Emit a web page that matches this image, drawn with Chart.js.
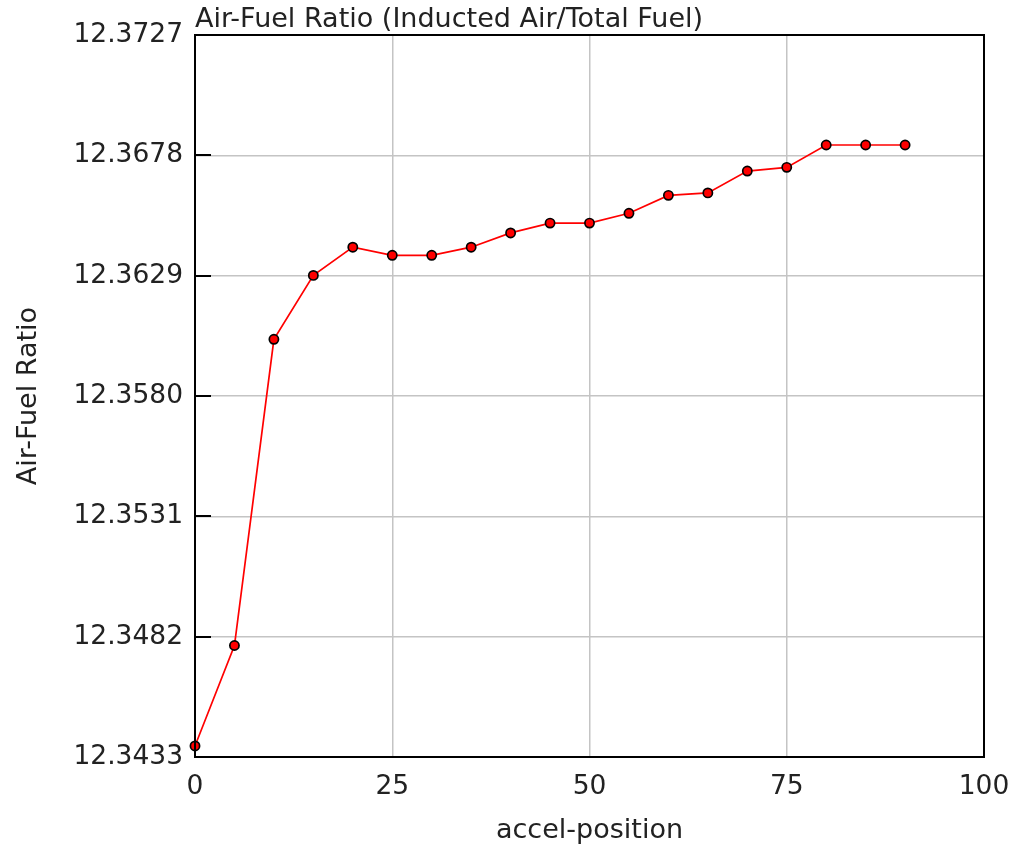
<!DOCTYPE html>
<html>
<head>
<meta charset="utf-8">
<script src="https://cdn.jsdelivr.net/npm/chart.js@4.4.1/dist/chart.umd.min.js"></script>
<style>
  html, body { margin: 0; padding: 0; background: #fff; }
  #wrap { width: 1014px; height: 844px; position: relative; }
</style>
</head>
<body>
<div id="wrap"><canvas id="c" width="1014" height="844"></canvas></div>
<script>
// accel-position sweep and the resulting air-fuel ratio
const accelPosition = [0, 5, 10, 15, 20, 25, 30, 35, 40, 45, 50, 55, 60, 65, 70, 75, 80, 85, 90];
const airFuelRatio = [12.34375, 12.34784, 12.36031, 12.36291, 12.36406, 12.36373, 12.36373, 12.36406,
                      12.36464, 12.36504, 12.36504, 12.36544, 12.36617, 12.36627, 12.36716, 12.36731,
                      12.36822, 12.36822, 12.36822];
const yTickValues = [12.3433, 12.3482, 12.3531, 12.3580, 12.3629, 12.3678, 12.3727];
const xTickValues = [0, 25, 50, 75, 100];

const FONT = 'DejaVu Sans';
const TEXT = '#222';

// plot frame, inner tick marks on the value axis, and the left-aligned heading
const framePlugin = {
  id: 'frame',
  afterDraw(chart) {
    const { ctx, chartArea: a, scales } = chart;
    ctx.save();
    ctx.strokeStyle = '#000';
    ctx.lineWidth = 2;
    ctx.strokeRect(a.left, a.top, a.right - a.left, a.bottom - a.top);
    yTickValues.forEach(v => {
      const y = Math.round(scales.y.getPixelForValue(v));
      ctx.beginPath();
      ctx.moveTo(a.left, y);
      ctx.lineTo(a.left + 16, y);
      ctx.stroke();
    });
    ctx.fillStyle = TEXT;
    ctx.font = '27px "' + FONT + '"';
    ctx.textAlign = 'left';
    ctx.textBaseline = 'alphabetic';
    ctx.fillText('Air-Fuel Ratio (Inducted Air/Total Fuel)', a.left, a.top - 8);
    ctx.restore();
  }
};

new Chart(document.getElementById('c'), {
  type: 'line',
  data: {
    datasets: [{
      data: accelPosition.map((x, i) => ({ x: x, y: airFuelRatio[i] })),
      borderColor: '#ff0000',
      borderWidth: 1.7,
      pointBackgroundColor: '#ff0000',
      pointBorderColor: '#000',
      pointBorderWidth: 1.7,
      pointRadius: 4.6,
      tension: 0,
      clip: false
    }]
  },
  options: {
    responsive: false,
    animation: false,
    layout: { padding: { left: 0, right: 30, top: 35, bottom: 0 } },
    plugins: { legend: { display: false }, tooltip: { enabled: false } },
    scales: {
      x: {
        type: 'linear',
        min: 0,
        max: 100,
        afterBuildTicks: s => { s.ticks = xTickValues.map(v => ({ value: v })); },
        afterFit: s => { s.height = 87; s.paddingLeft = 0; s.paddingRight = 0; },
        grid: { color: '#c4c4c4', lineWidth: 1.5, drawTicks: false },
        border: { display: false },
        ticks: { color: TEXT, font: { family: FONT, size: 26.5 }, padding: 14, maxRotation: 0 },
        title: { display: true, text: 'accel-position', color: TEXT, font: { family: FONT, size: 27 }, padding: { top: 0, bottom: -3 } }
      },
      y: {
        type: 'linear',
        min: 12.3433,
        max: 12.3727,
        afterBuildTicks: s => { s.ticks = yTickValues.map(v => ({ value: v })); },
        afterFit: s => { s.width = 195; s.paddingTop = 0; s.paddingBottom = 0; },
        grid: { color: '#c4c4c4', lineWidth: 1.5, drawTicks: false },
        border: { display: false },
        ticks: { color: TEXT, font: { family: FONT, size: 26.5 }, padding: 12, callback: v => v.toFixed(4) },
        title: { display: true, text: 'Air-Fuel Ratio', color: TEXT, font: { family: FONT, size: 27 }, padding: { top: 13, bottom: 0 } }
      }
    }
  },
  plugins: [framePlugin]
});
</script>
</body>
</html>
